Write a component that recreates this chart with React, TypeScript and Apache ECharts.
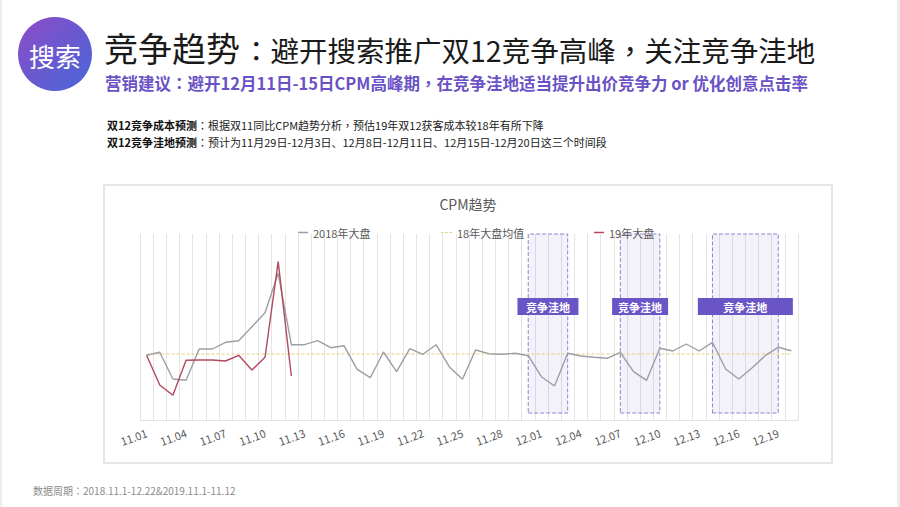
import React, { useEffect, useRef } from 'react';
import * as echarts from 'echarts';

// ---------- data ----------
const categories = [
  '11.01','11.02','11.03','11.04','11.05','11.06','11.07','11.08','11.09','11.10',
  '11.11','11.12','11.13','11.14','11.15','11.16','11.17','11.18','11.19','11.20',
  '11.21','11.22','11.23','11.24','11.25','11.26','11.27','11.28','11.29','11.30',
  '12.01','12.02','12.03','12.04','12.05','12.06','12.07','12.08','12.09','12.10',
  '12.11','12.12','12.13','12.14','12.15','12.16','12.17','12.18','12.19','12.20',
];

const cpm2018 = [
  6.47, 6.77, 4.10, 3.97, 7.10, 7.10, 7.77, 7.93, 9.33, 10.73,
  14.67, 7.53, 7.53, 7.93, 7.23, 7.43, 5.07, 4.23, 6.80, 4.83,
  7.13, 6.57, 7.53, 5.33, 4.07, 7.00, 6.63, 6.57, 6.67, 6.43,
  4.33, 3.40, 6.67, 6.40, 6.27, 6.17, 6.77, 4.83, 3.97, 7.17,
  6.90, 7.60, 6.90, 7.77, 5.10, 4.10, 5.20, 6.43, 7.27, 6.93,
];

const cpm2019 = [6.47, 3.50, 2.47, 5.97, 6.00, 6.00, 5.90, 6.47, 5.00, 6.27, 15.83, 4.40];

const avg2018 = 6.6;

const seriesNames = ['2018年大盘', '18年大盘均值', '19年大盘'];

// 竞争洼地 periods
const lowStart = ['11.30', '12.07', '12.14'];
const lowEnd = ['12.03', '12.10', '12.19'];
const lowLabel = '竞争洼地';

// ---------- styles ----------
const FONT = '"Noto Sans CJK SC", "Noto Sans", sans-serif';
const PUNCT_FONT = '"Noto Sans CJK TC", "Noto Sans CJK SC", sans-serif';
const lowLabelWidths = [61, 56, 95];
const BOX_BOTTOM = 0.7;
const Y_MAX = 18.6;

export default function App() {
  const ref = useRef<HTMLDivElement>(null);

  useEffect(() => {
    const chart = echarts.init(ref.current as HTMLDivElement, null, {
      renderer: 'svg',
      width: 900,
      height: 507,
    });

    const markData = lowStart.map((s, i) => [
      {
        xAxis: s,
        yAxis: BOX_BOTTOM,
        label: {
          show: true,
          position: 'inside',
          offset: [0, -17],
          formatter: lowLabel,
          color: '#ffffff',
          fontSize: 11,
          fontWeight: 'bold',
          fontFamily: FONT,
          backgroundColor: '#6a55c6',
          width: lowLabelWidths[i],
          height: 17,
          lineHeight: 17,
          align: 'center',
          verticalAlign: 'middle',
        },
      },
      { xAxis: lowEnd[i], yAxis: Y_MAX },
    ]);

    const legendText = { color: '#595959', fontSize: 11, fontFamily: FONT };

    const option: any = {
      animation: false,
      backgroundColor: '#ffffff',
      textStyle: { fontFamily: FONT },
      grid: { left: 140, right: 102, top: 234, bottom: 87, containLabel: false },
      legend: [
        {
          data: [seriesNames[0]],
          left: 298,
          top: 227,
          padding: 0,
          icon: 'rect',
          itemWidth: 10,
          itemHeight: 1.5,
          textStyle: legendText,
        },
        {
          data: [seriesNames[1]],
          left: 441,
          top: 227,
          padding: 0,
          icon: 'path://M0,0h3v1h-3z M5,0h3v1h-3z M10,0h3v1h-3z',
          itemWidth: 11,
          itemHeight: 1.5,
          textStyle: legendText,
        },
        {
          data: [seriesNames[2]],
          left: 594,
          top: 227,
          padding: 0,
          icon: 'rect',
          itemWidth: 10,
          itemHeight: 1.5,
          textStyle: legendText,
        },
      ],
      xAxis: {
        type: 'category',
        data: categories,
        boundaryGap: true,
        axisTick: { show: false },
        axisLine: { show: true, lineStyle: { color: '#e2e2e2', width: 1 } },
        splitLine: { show: true, interval: 0, lineStyle: { color: '#e4e4e4', width: 1 } },
        axisLabel: {
          interval: 2,
          rotate: 20,
          margin: 12,
          color: '#595959',
          fontSize: 11,
          fontFamily: FONT,
        },
      },
      yAxis: {
        type: 'value',
        min: 0,
        max: Y_MAX,
        show: false,
        splitLine: { show: false },
      },
      series: [
        {
          name: seriesNames[0],
          type: 'line',
          data: cpm2018,
          showSymbol: false,
          symbol: 'none',
          lineStyle: { color: '#9d9da7', width: 1.4 },
          itemStyle: { color: '#9d9da7' },
          z: 3,
          markArea: {
            silent: true,
            itemStyle: {
              color: 'rgba(120,110,210,0.09)',
              borderColor: '#8d84cc',
              borderWidth: 1,
              borderType: 'dashed',
            },
            data: markData,
          },
        },
        {
          name: seriesNames[1],
          type: 'line',
          data: categories.map(() => avg2018),
          showSymbol: false,
          symbol: 'none',
          lineStyle: { color: '#e4cf7c', width: 1.2, type: [3, 2] },
          itemStyle: { color: '#e4cf7c' },
          z: 2,
        },
        {
          name: seriesNames[2],
          type: 'line',
          data: cpm2019,
          showSymbol: false,
          symbol: 'none',
          lineStyle: { color: '#b04a5c', width: 1.4 },
          itemStyle: { color: '#b04a5c' },
          z: 4,
        },
      ],
      graphic: [
        // slide edges
        { type: 'rect', shape: { x: 0, y: 0, width: 2, height: 507 }, style: { fill: '#ececec' }, silent: true },
        { type: 'rect', shape: { x: 897, y: 0, width: 3, height: 507 }, style: { fill: '#ececec' }, silent: true },
        // chart frame
        {
          type: 'rect',
          shape: { x: 104, y: 185, width: 728, height: 278 },
          style: { fill: 'none', stroke: '#dedede', lineWidth: 1.5 },
          silent: true,
          z: -10,
        },
        // logo
        {
          type: 'circle',
          shape: { cx: 55, cy: 54, r: 37 },
          style: {
            fill: new echarts.graphic.LinearGradient(0, 0, 1, 1, [
              { offset: 0, color: '#8d4bc7' },
              { offset: 1, color: '#4767d9' },
            ]),
          },
        },
        {
          type: 'text',
          x: 55,
          y: 55,
          style: {
            fontFamily: FONT,
            text: '搜索',
            fill: '#ffffff',
            fontSize: 26,
            textAlign: 'center',
            textVerticalAlign: 'middle',
            align: 'center',
            verticalAlign: 'middle',
          },
        },
        // headline
        {
          type: 'text',
          x: 104,
          y: 47,
          style: {
            fontFamily: FONT,
            text: '竞争趋势',
            fill: '#1a1a1a',
            fontSize: 34,
            lineHeight: 34,
            textVerticalAlign: 'middle',
            verticalAlign: 'middle',
          },
        },
        {
          type: 'text',
          x: 242,
          y: 49,
          style: {
            fontFamily: FONT,
            text: '{p|：}避开搜索推广双12竞争高峰{p|，}关注竞争洼地',
            fill: '#1a1a1a',
            fontSize: 28.5,
            lineHeight: 29,
            textVerticalAlign: 'middle',
            verticalAlign: 'middle',
            rich: {
              p: { fontFamily: PUNCT_FONT, fontSize: 28.5, lineHeight: 29, fill: '#1a1a1a' },
            },
          },
        },
        {
          type: 'text',
          x: 105,
          y: 83,
          style: {
            fontFamily: FONT,
            text: '营销建议{p|：}避开12月11日-15日CPM高峰期{p|，}在竞争洼地适当提升出价竞争力 or 优化创意点击率',
            fill: '#6a52c6',
            fontSize: 16.5,
            lineHeight: 17,
            fontWeight: 'bold',
            textVerticalAlign: 'middle',
            verticalAlign: 'middle',
            rich: {
              p: { fontFamily: PUNCT_FONT, fontSize: 16.5, lineHeight: 17, fontWeight: 'bold', fill: '#6a52c6' },
            },
          },
        },
        // body lines
        {
          type: 'text',
          x: 107,
          y: 125,
          style: {
            fontFamily: FONT,
            text: '{b|双12竞争成本预测}{p|：}根据双11同比CPM趋势分析{p|，}预估19年双12获客成本较18年有所下降',
            fill: '#222222',
            fontSize: 11,
            textVerticalAlign: 'middle',
            verticalAlign: 'middle',
            rich: {
              b: { fontSize: 11, fontWeight: 'bold', fill: '#111111', fontFamily: FONT },
              p: { fontSize: 11, fill: '#222222', fontFamily: PUNCT_FONT },
            },
          },
        },
        {
          type: 'text',
          x: 107,
          y: 142,
          style: {
            fontFamily: FONT,
            text: '{b|双12竞争洼地预测}{p|：}预计为11月29日-12月3日、12月8日-12月11日、12月15日-12月20日这三个时间段',
            fill: '#222222',
            fontSize: 11,
            textVerticalAlign: 'middle',
            verticalAlign: 'middle',
            rich: {
              b: { fontSize: 11, fontWeight: 'bold', fill: '#111111', fontFamily: FONT },
              p: { fontSize: 11, fill: '#222222', fontFamily: PUNCT_FONT },
            },
          },
        },
        // chart title
        {
          type: 'text',
          x: 468,
          y: 204,
          style: {
            fontFamily: FONT,
            text: 'CPM趋势',
            fill: '#595959',
            fontSize: 14,
            textAlign: 'center',
            textVerticalAlign: 'middle',
            align: 'center',
            verticalAlign: 'middle',
          },
        },
        // footer
        {
          type: 'text',
          x: 33,
          y: 490,
          style: {
            fontFamily: FONT,
            text: '数据周期{p|：}2018.11.1-12.22&2019.11.1-11.12',
            fill: '#8c8c8c',
            fontSize: 10,
            textVerticalAlign: 'middle',
            verticalAlign: 'middle',
            rich: {
              p: { fontSize: 10, fill: '#8c8c8c', fontFamily: PUNCT_FONT },
            },
          },
        },
      ],
    };

    chart.setOption(option);
    return () => chart.dispose();
  }, []);

  return (
    <div
      ref={ref}
      style={{ position: 'fixed', left: 0, top: 0, width: 900, height: 507, background: '#ffffff' }}
    />
  );
}
